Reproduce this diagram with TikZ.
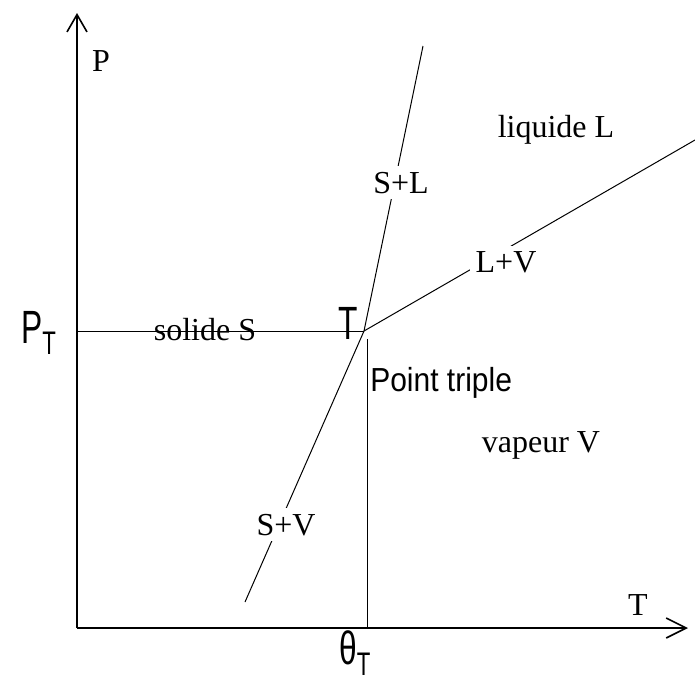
\documentclass[tikz,border=0pt]{standalone}
\usepackage{fontspec}
\setmainfont{Liberation Serif}
\newfontfamily\bigsans[FakeStretch=0.68]{Liberation Sans}
\newfontfamily\midsans[FakeStretch=0.9]{Liberation Sans}
\usetikzlibrary{arrows.meta}
\tikzset{
  axis/.style={line width=1.5pt},
  curve/.style={line width=0.75pt},
  phase/.style={font=\fontsize{24}{28}\selectfont, inner sep=4pt, fill=white},
  bigtag/.style={font=\bigsans\fontsize{35}{40}\selectfont, inner sep=0pt}
}

\begin{document}
\begin{tikzpicture}[x=0.75pt,y=-0.75pt]
  \useasboundingbox (0,0) rectangle (695,686);
  % axes
  \coordinate (O) at (77,628);
  \coordinate (Ptop) at (77,13);
  \coordinate (Tend) at (688,628);
  \draw[axis,-{Straight Barb[length=13pt,width=15pt,line width=1.2pt]}] (O)--(Ptop);
  \draw[axis,-{Straight Barb[length=15pt,width=15pt,line width=1.2pt]}] (O)--(Tend);
  % triple point and the three curves
  \coordinate (T) at (364,331);
  \coordinate (SV) at (245,602);
  \coordinate (SL) at (423,46);
  \coordinate (LV) at (695,140);
  \coordinate (PT) at (77,331);
  \coordinate (Vtop) at (367,339);
  \coordinate (Vbot) at (367,628);
  \draw[curve] (SV)--(T)--(SL);
  \draw[curve] (T)--(LV);
  \draw[curve] (PT)--(T);
  \draw[curve] (Vtop)--(Vbot);
  % phase labels
  \node[phase,fill=none,anchor=base] (lp) at (101,71) {P};
  \node[phase,fill=none,anchor=base] (lt) at (638,615) {T};
  \node[phase,fill=none,anchor=base] (liq) at (556,137) {liquide L};
  \node[phase,fill=none,anchor=base] (sol) at (205,340) {solide S};
  \node[phase,fill=none,anchor=base] (vap) at (541,452) {vapeur V};
  \node[phase,anchor=base] (sl) at (401,193) {S+L};
  \node[phase,anchor=base] (lv) at (506,272) {L+V};
  \node[phase,anchor=base] (sv) at (286,535) {S+V};
  % triple point labels
  \node[bigtag,anchor=base west] (pt) at (21,343) {P\textsubscript{T}};
  \node[bigtag,anchor=base] (tt) at (348,339) {T};
  \node[font=\midsans\fontsize{25}{30}\selectfont,inner sep=0pt,anchor=base west] (ptr) at (370,391) {Point triple};
  \node[bigtag,anchor=base west] (th) at (339,664) {θ\textsubscript{T}};
\end{tikzpicture}
\end{document}
